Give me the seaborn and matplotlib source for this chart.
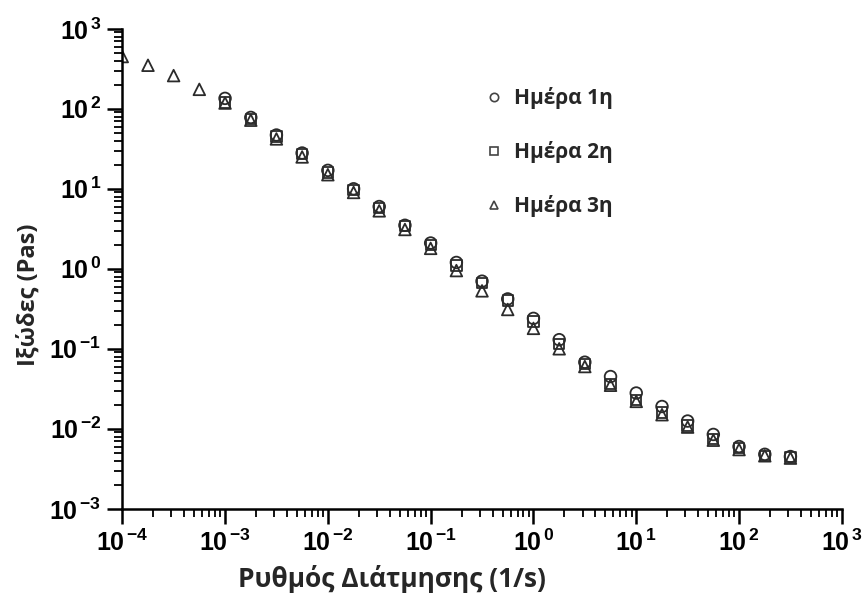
import numpy as np
import pandas as pd
import matplotlib
matplotlib.use("Agg")
import matplotlib.pyplot as plt
import seaborn as sns
from matplotlib.lines import Line2D
from matplotlib.ticker import LogLocator, FixedLocator, FuncFormatter, NullFormatter

# Shear rate (1/s), one point every quarter decade
shear_day3 = [1e-4, 1.78e-4, 3.16e-4, 5.62e-4,
              1e-3, 1.78e-3, 3.16e-3, 5.62e-3, 1e-2, 1.78e-2, 3.16e-2, 5.62e-2,
              0.1, 0.178, 0.316, 0.562, 1, 1.78, 3.16, 5.62,
              10, 17.8, 31.6, 56.2, 100, 178, 316]
shear_day12 = shear_day3[4:]

# Viscosity (Pas)
visc_day1 = [135, 78, 47, 28, 17, 10, 6.0, 3.5, 2.1, 1.2, 0.70, 0.42, 0.24, 0.13,
             0.068, 0.045, 0.028, 0.019, 0.0125, 0.0085, 0.0060, 0.0048, 0.0045]
visc_day2 = [120, 74, 45, 27, 16, 9.6, 5.8, 3.4, 2.0, 1.1, 0.66, 0.40, 0.22, 0.115,
             0.065, 0.036, 0.023, 0.016, 0.011, 0.0075, 0.0058, 0.0046, 0.0044]
visc_day3 = [450, 350, 260, 175, 118, 72, 42, 25, 15, 9.0, 5.3, 3.1, 1.8, 0.95, 0.53,
             0.31, 0.18, 0.10, 0.060, 0.035, 0.022, 0.015, 0.0105, 0.0072, 0.0055,
             0.0046, 0.0043]

labels = ["Ημέρα 1η", "Ημέρα 2η", "Ημέρα 3η"]
markers = ["o", "s", "^"]
xticks = [1e-4, 1e-3, 1e-2, 1e-1, 1e0, 1e1, 1e2, 1e3]
yticks = [1e-3, 1e-2, 1e-1, 1e0, 1e1, 1e2, 1e3]

sns.set_style("ticks")
plt.rcParams["font.family"] = ["Liberation Sans", "DejaVu Sans"]
plt.rcParams["axes.unicode_minus"] = False
plt.rcParams["mathtext.fontset"] = "custom"
plt.rcParams["mathtext.rm"] = "Liberation Sans:bold"
plt.rcParams["mathtext.it"] = "Liberation Sans:bold"
plt.rcParams["mathtext.bf"] = "Liberation Sans:bold"

fig = plt.figure(figsize=(8.67, 6), dpi=100)
ax = fig.add_axes([0.141, 0.152, 0.830, 0.800])

ink = "#2b2b2b"
series = [(shear_day12, visc_day1), (shear_day12, visc_day2), (shear_day3, visc_day3)]
sizes = [70, 55, 70]
for (xs, ys), m, s in zip(series, markers, sizes):
    sns.scatterplot(x=xs, y=ys, marker=m, s=s, facecolors="none",
                    edgecolors=ink, linewidths=1.3, ax=ax, legend=False)

ax.set_xscale("log")
ax.set_yscale("log")
ax.set_xlim(xticks[0], xticks[-1])
ax.set_ylim(yticks[0], yticks[-1])

sup = FuncFormatter(lambda v, p: r"$10^{\,{%d}}$" % round(np.log10(v)))
for axis, tks in ((ax.xaxis, xticks), (ax.yaxis, yticks)):
    axis.set_major_locator(FixedLocator(tks))
    axis.set_minor_locator(LogLocator(base=10, subs=np.arange(2, 10), numticks=12))
    axis.set_major_formatter(sup)
    axis.set_minor_formatter(NullFormatter())

ax.tick_params(which="major", direction="out", length=11, width=1.8,
               labelsize=18, colors="black", pad=4)
ax.tick_params(which="minor", direction="out", length=6, width=1.3, colors="black")
for side in ("left", "bottom"):
    ax.spines[side].set_linewidth(1.8)
    ax.spines[side].set_color("black")
sns.despine(ax=ax)

ax.set_xlabel("Ρυθμός Διάτμησης (1/s)", family=["Open Sans", "DejaVu Sans"],
              fontweight="bold", fontsize=19)
ax.set_ylabel("Ιξώδες (Pas)", family=["Open Sans", "DejaVu Sans"],
              fontweight="bold", fontsize=17)
ax.xaxis.set_label_coords(0.375, -0.118)
ax.yaxis.set_label_coords(-0.114, 0.446)

handles = [Line2D([], [], linestyle="none", marker=m, markersize=6,
                  markerfacecolor="none", markeredgecolor="#444444", markeredgewidth=1.2)
           for m in markers]
ax.legend(handles, labels, loc="upper left", bbox_to_anchor=(0.476, 0.918),
          frameon=False, labelspacing=1.55, handletextpad=0.45, handlelength=1.0,
          prop={"family": ["Open Sans", "DejaVu Sans"], "weight": "bold", "size": 15})

fig.savefig("out.png", dpi=100, facecolor="white")
